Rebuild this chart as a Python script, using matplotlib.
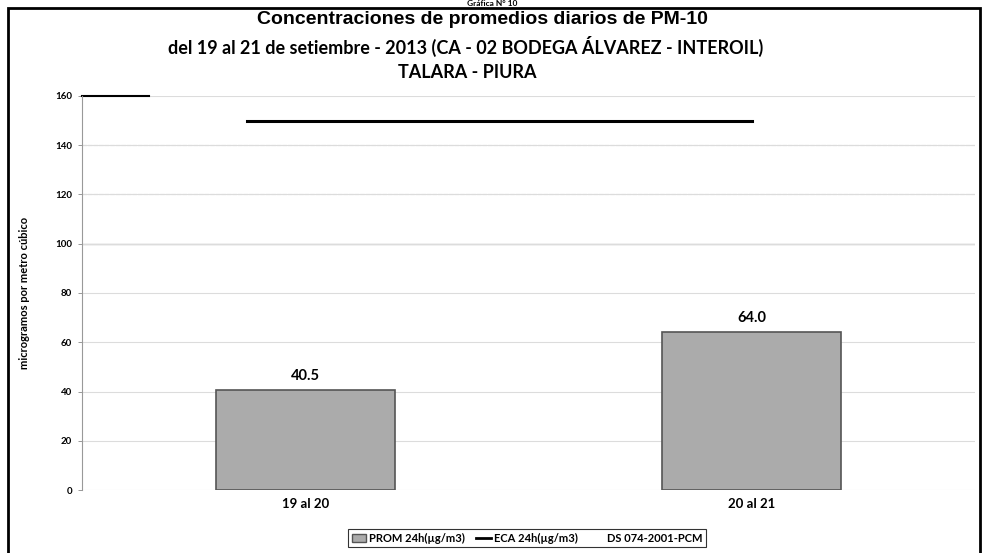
import matplotlib.pyplot as plt
from matplotlib.patches import Rectangle, Patch
from matplotlib.lines import Line2D

# datos
categorias = ['19 al 20', '20 al 21']
prom_24h = [40.5, 64.0]
eca_x = [-0.13, 1.0]      # tramo horizontal del ECA en unidades de categoria
eca_y = [150, 150]
yticks = [0, 20, 40, 60, 80, 100, 120, 140, 160]

plt.rcParams['font.family'] = ['Lato', 'DejaVu Sans']

fig = plt.figure(figsize=(9.85, 5.53), dpi=100)
ax = fig.add_axes([82/985, 1-490/553, 893/985, 394/553])

# marco exterior
fig.patches.append(Rectangle((8/985, -0.01), 972/985, 1-8/553+0.01, transform=fig.transFigure,
                             fill=False, ec='black', lw=2))
fig.text(0.5, 1-0.5/553, 'Gráfica N° 10', ha='center', va='top', fontsize=6, fontweight='bold')

# titulo
fig.text(482/985, 1-20/553, 'Concentraciones de promedios diarios de PM-10', ha='center', va='center',
         fontsize=14, fontweight='bold', family=['Liberation Sans', 'DejaVu Sans'])
fig.text(466/985, 1-46/553, 'del 19 al 21 de setiembre - 2013 (CA - 02 BODEGA ÁLVAREZ - INTEROIL)',
         ha='center', va='center', fontsize=13, fontweight='bold')
fig.text(467/985, 1-72/553, 'TALARA - PIURA', ha='center', va='center', fontsize=13, fontweight='bold')

x = range(len(categorias))
barras = ax.bar(x, prom_24h, width=0.4, color='#ababab', edgecolor='#555555', lw=1.2, zorder=3)
for xi, v in zip(x, prom_24h):
    ax.text(xi, v + 3, f'{v:.1f}', ha='center', va='bottom', fontsize=10.5, fontweight='bold')
ax.plot(eca_x, eca_y, color='black', lw=2.2, zorder=4)

ax.set_xlim(-0.5, 1.5)
ax.set_ylim(0, 160)
ax.set_yticks(yticks)
ax.set_yticklabels([str(t) for t in yticks], fontsize=7, fontweight='bold')
ax.set_xticks(list(x))
ax.set_xticklabels(categorias, fontsize=9.5, fontweight='bold')
ax.tick_params(axis='x', length=0, pad=6)
ax.tick_params(axis='y', length=3, width=0.6, color='#888888', pad=4)
ax.set_ylabel('microgramos por metro cúbico', fontsize=8, fontweight='bold', labelpad=18)

ax.grid(axis='y', color='#dcdcdc', lw=0.8, zorder=0)
for s in ['top', 'right', 'bottom']:
    ax.spines[s].set_visible(False)
ax.spines['left'].set_color('#999999')
ax.spines['left'].set_linewidth(0.8)
ax.axhline(100, color='#999999', lw=0.9, zorder=1)
ax.axhline(120, color='#bbbbbb', lw=0.8, ls=(0, (4, 1)), zorder=1)
ax.axhline(140, color='#bbbbbb', lw=0.8, ls=(0, (4, 1)), zorder=1)
ax.plot([-0.5, -0.35], [160, 160], color='black', lw=1.5, clip_on=False)

handles = [Patch(facecolor='#ababab', edgecolor='#555555'),
           Line2D([], [], color='black', lw=2),
           Line2D([], [], color='none')]
labels = ['PROM 24h(µg/m3)', 'ECA 24h(µg/m3)', 'DS 074-2001-PCM']
leg = fig.legend(handles, labels, loc='center', bbox_to_anchor=(527/985, 1-538/553), ncol=3,
                 prop={'weight': 'bold', 'size': 8}, frameon=True, fancybox=False,
                 edgecolor='black', handlelength=1.3, handletextpad=0.3, columnspacing=1.0,
                 borderpad=0.35)
leg.get_frame().set_linewidth(0.8)

fig.savefig('out.png', dpi=100)
